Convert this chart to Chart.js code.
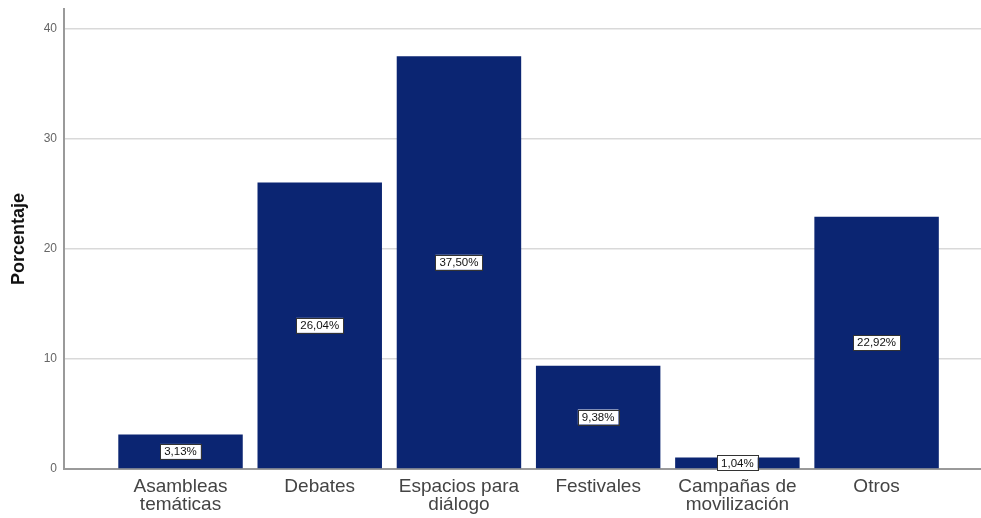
<!DOCTYPE html>
<html>
<head>
<meta charset="utf-8">
<script src="https://cdn.jsdelivr.net/npm/chart.js@4"></script>
<style>
  html, body { margin: 0; padding: 0; background: #fff; }
  #wrap { width: 981px; height: 518px; }
</style>
</head>
<body>
<div id="wrap"><canvas id="myChart" width="981" height="518"></canvas></div>
<script>
const categories = [
  ["Asambleas", "temáticas"],
  ["Debates"],
  ["Espacios para", "diálogo"],
  ["Festivales"],
  ["Campañas de", "movilización"],
  ["Otros"]
];
const percentages = [3.13, 26.04, 37.50, 9.38, 1.04, 22.92];
const yTicks = [0, 10, 20, 30, 40];

const barColor = "#0B2572";
const gridColor = "#d9d9d9";
const axisColor = "#9a9a9a";

// etiquetas "26,04%" en recuadro blanco en el centro de cada barra
const boxLabels = {
  id: 'boxLabels',
  afterDatasetsDraw(chart) {
    const c = chart.ctx;
    const meta = chart.getDatasetMeta(0);
    c.save();
    c.font = "11.5px 'Liberation Sans', Arial, sans-serif";
    c.textAlign = "center";
    c.textBaseline = "middle";
    meta.data.forEach((bar, i) => {
      const txt = percentages[i].toFixed(2).replace(".", ",") + "%";
      const cy = (bar.y + bar.base) / 2;
      const w = c.measureText(txt).width + 8;
      const h = 15;
      c.fillStyle = "#fff";
      c.fillRect(bar.x - w / 2, cy - h / 2, w, h);
      c.strokeStyle = "#333";
      c.lineWidth = 1;
      c.strokeRect(Math.round(bar.x - w / 2) + 0.5, Math.round(cy - h / 2) + 0.5, Math.round(w), h);
      c.fillStyle = "#111";
      c.fillText(txt, bar.x, cy + 0.5);
    });
    c.restore();
  }
};

const ctx = document.getElementById('myChart');
let myChart = new Chart(ctx, {
  type: 'bar',
  data: {
    datasets: [{
      data: percentages.map((v, i) => ({ x: i, y: v })),
      backgroundColor: barColor,
      borderWidth: 0,
      barPercentage: 0.894,
      categoryPercentage: 1
    }]
  },
  options: {
    responsive: false,
    animation: false,
    layout: { padding: { top: 9, right: 0, bottom: 0, left: 0 } },
    plugins: {
      legend: { display: false },
      tooltip: { enabled: false }
    },
    scales: {
      x: {
        type: 'linear',
        offset: false,
        min: -0.837,
        max: 5.75,
        afterBuildTicks: (s) => { s.ticks = categories.map((_, i) => ({ value: i })); },
        afterFit: (s) => { s.height = 49; },
        grid: { display: false, drawTicks: false, offset: false },
        border: { color: axisColor, width: 2 },
        ticks: {
          autoSkip: false,
          maxRotation: 0,
          padding: 9,
          color: "#444",
          font: { family: "'Liberation Sans', Arial, sans-serif", size: 19, lineHeight: 0.95 },
          callback: (v) => categories[v]
        }
      },
      y: {
        min: 0,
        max: 41.8,
        afterBuildTicks: (s) => { s.ticks = yTicks.map(v => ({ value: v })); },
        afterFit: (s) => { s.width = 64; s.paddingTop = 0; s.paddingBottom = 0; },
        grid: { color: gridColor, lineWidth: 1.5, drawTicks: false },
        border: { color: axisColor, width: 2 },
        ticks: {
          padding: 7,
          color: "#666",
          font: { family: "'Liberation Sans', Arial, sans-serif", size: 12 }
        },
        title: {
          display: true,
          text: "Porcentaje",
          color: "#111",
          padding: { top: 8, bottom: 0 },
          font: { family: "'Liberation Sans', Arial, sans-serif", size: 18, weight: "bold" }
        }
      }
    }
  },
  plugins: [boxLabels]
});
</script>
</body>
</html>
